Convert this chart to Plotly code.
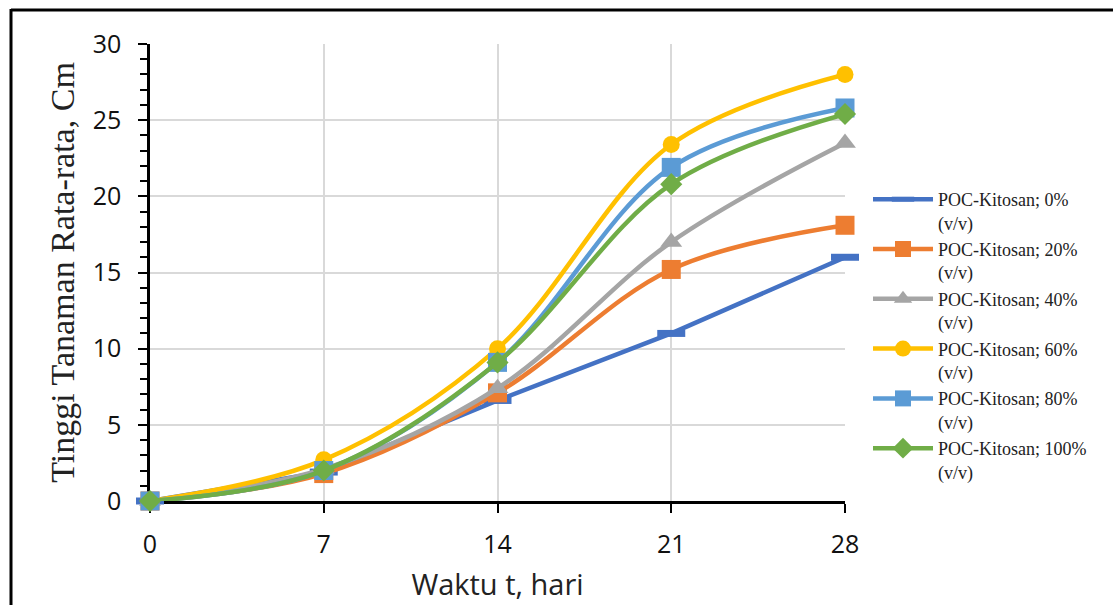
import plotly.graph_objects as go

# Observation days and mean plant height (cm) for each POC-chitosan dose
days = [0, 7, 14, 21, 28]
h_0 = [0.0, 1.9, 6.6, 11.0, 16.0]
h_20 = [0.0, 1.8, 7.1, 15.2, 18.1]
h_40 = [0.0, 2.1, 7.4, 17.0, 23.5]
h_60 = [0.0, 2.7, 10.0, 23.4, 28.0]
h_80 = [0.0, 2.0, 9.1, 21.9, 25.8]
h_100 = [0.0, 2.0, 9.1, 20.8, 25.4]

names = ["POC-Kitosan; 0%<br>(v/v)", "POC-Kitosan; 20%<br>(v/v)",
         "POC-Kitosan; 40%<br>(v/v)", "POC-Kitosan; 60%<br>(v/v)",
         "POC-Kitosan; 80%<br>(v/v)", "POC-Kitosan; 100%<br>(v/v)"]
series = [h_0, h_20, h_40, h_60, h_80, h_100]

styles = [
    dict(color="#4472C4", symbol="line-ew", size=20, shape="linear"),
    dict(color="#ED7D31", symbol="square", size=19, shape="spline"),
    dict(color="#A5A5A5", symbol="triangle-up", size=19, shape="spline"),
    dict(color="#FFC000", symbol="circle", size=17, shape="spline"),
    dict(color="#5B9BD5", symbol="square", size=19, shape="spline"),
    dict(color="#70AD47", symbol="diamond", size=17, shape="spline"),
]

fig = go.Figure()
for name, ys, st in zip(names, series, styles):
    marker = dict(symbol=st["symbol"], size=st["size"], color=st["color"])
    if st["symbol"] == "line-ew":
        marker["line"] = dict(color=st["color"], width=7)
    else:
        marker["line"] = dict(width=0)
    fig.add_trace(go.Scatter(
        x=days, y=ys, name=name, mode="lines+markers",
        line=dict(color=st["color"], width=4.5, shape=st["shape"], smoothing=1),
        marker=marker, cliponaxis=False,
    ))

W, H = 1113, 605
L, R, T, B = 150, 268, 44, 104
pw, ph = W - L - R, H - T - B


def px(x):
    return (x - L) / pw


def py(y):
    return (H - B - y) / ph


# Outer frame (top and left edges)
frame = [
    dict(type="line", xref="paper", yref="paper", x0=px(11), x1=px(1120),
         y0=py(10), y1=py(10), line=dict(color="black", width=3)),
    dict(type="line", xref="paper", yref="paper", x0=px(11), x1=px(11),
         y0=py(9), y1=py(615), line=dict(color="black", width=3)),
]

fig.update_layout(
    width=W, height=H,
    margin=dict(l=L, r=R, t=T, b=B, autoexpand=False),
    paper_bgcolor="white", plot_bgcolor="white",
    shapes=frame,
    showlegend=True,
    legend=dict(
        x=px(868), y=py(181), xanchor="left", yanchor="top",
        font=dict(family="Liberation Serif", size=18, color="#222"),
        valign="top", itemwidth=60, tracegroupgap=0,
        bgcolor="rgba(0,0,0,0)",
    ),
    xaxis=dict(
        range=[0, 28], tickvals=days, ticktext=[str(d) for d in days],
        showgrid=True, gridcolor="#D9D9D9", gridwidth=2,
        showline=True, linecolor="black", linewidth=2.5,
        ticks="outside", ticklen=9, tickwidth=2, tickcolor="black",
        ticklabelstandoff=10, automargin=False,
        tickfont=dict(family="Open Sans", size=25, color="#111"),
        zeroline=False, layer="below traces",
        title=dict(text="Waktu t, hari", standoff=16,
                   font=dict(family="Open Sans", size=29, color="#222")),
    ),
    yaxis=dict(
        range=[0, 30], tickvals=[0, 5, 10, 15, 20, 25, 30],
        showgrid=True, gridcolor="#D9D9D9", gridwidth=2,
        showline=True, linecolor="black", linewidth=2.5,
        ticks="outside", ticklen=9, tickwidth=2, tickcolor="black",
        ticklabelstandoff=12, automargin=False,
        minor=dict(dtick=1, ticks="outside", ticklen=7, tickwidth=2,
                   tickcolor="black", showgrid=False),
        tickfont=dict(family="Open Sans", size=25, color="#111"),
        zeroline=False, layer="below traces",
        title=dict(text="Tinggi Tanaman Rata-rata, Cm", standoff=8,
                   font=dict(family="Liberation Serif", size=34, color="#222")),
    ),
)

fig.write_html("out.html")
